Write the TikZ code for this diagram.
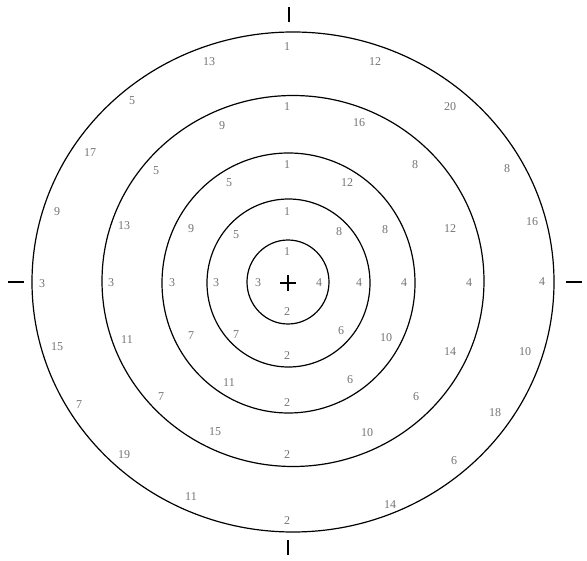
\documentclass[tikz,border=0pt]{standalone}
\usepackage{fontspec}
\setmainfont{Liberation Serif}
\usepackage{tikz}

\begin{document}
\begin{tikzpicture}[x=1pt, y=-1pt]

\tikzstyle{ring} = [line width=1.2pt, draw=black]
\tikzstyle{lbl} = [inner sep=0pt, text=black!55, font=\fontsize{12}{12}\selectfont]
\tikzstyle{tick_mark} = [line width=1.4pt]

\useasboundingbox (0,0) rectangle (587,561);

\coordinate (c) at (288,283);

%------------------------------------------------------------
	\draw[ring] (288,282)   ellipse [x radius=41,    y radius=42];
	\draw[ring] (288.5,283) ellipse [x radius=81.5,  y radius=84];
	\draw[ring] (288.5,283) ellipse [x radius=126.5, y radius=130];
	\draw[ring] (293,281)   ellipse [x radius=191,   y radius=185.5];
	\draw[ring] (293,282)   ellipse [x radius=261,   y radius=250];

%------------------------------------------------------------
	\draw[tick_mark] (289,7) -- (289,22);
	\draw[tick_mark] (288,540) -- (288,555);
	\draw[tick_mark] (8,282) -- (24,282);
	\draw[tick_mark] (566,282) -- (582,282);

	\draw[line width=1.1pt] (c) +(-8,0) -- +(8,0);
	\draw[line width=1.1pt] (c) +(0,-8) -- +(0,8);

%------------------------------------------------------------
	\node[lbl] (r1n) at (287,252) {1};
	\node[lbl] (r1w) at (258,283) {3};
	\node[lbl] (r1e) at (319,283) {4};
	\node[lbl] (r1s) at (287,312) {2};

%------------------------------------------------------------
	\node[lbl] (r2n)  at (287,212) {1};
	\node[lbl] (r2nw) at (236,235) {5};
	\node[lbl] (r2ne) at (339,232) {8};
	\node[lbl] (r2w)  at (216,283) {3};
	\node[lbl] (r2e)  at (359,283) {4};
	\node[lbl] (r2sw) at (236,335) {7};
	\node[lbl] (r2se) at (341,331) {6};
	\node[lbl] (r2s)  at (287,356) {2};

%------------------------------------------------------------
	\node[lbl] (r3n)   at (287,165) {1};
	\node[lbl] (r3nnw) at (229,183) {5};
	\node[lbl] (r3nne) at (347,183) {12};
	\node[lbl] (r3wnw) at (191,229) {9};
	\node[lbl] (r3ene) at (385,230) {8};
	\node[lbl] (r3w)   at (172,283) {3};
	\node[lbl] (r3e)   at (404,283) {4};
	\node[lbl] (r3wsw) at (191,336) {7};
	\node[lbl] (r3ese) at (386,338) {10};
	\node[lbl] (r3ssw) at (229,383) {11};
	\node[lbl] (r3sse) at (350,380) {6};
	\node[lbl] (r3s)   at (287,403) {2};

%------------------------------------------------------------
	\node[lbl] (r4n)   at (287,107) {1};
	\node[lbl] (r4nnw) at (222,126) {9};
	\node[lbl] (r4nne) at (359,123) {16};
	\node[lbl] (r4nw)  at (156,171) {5};
	\node[lbl] (r4ne)  at (415,165) {8};
	\node[lbl] (r4wnw) at (124,226) {13};
	\node[lbl] (r4ene) at (450,229) {12};
	\node[lbl] (r4w)   at (111,283) {3};
	\node[lbl] (r4e)   at (469,283) {4};
	\node[lbl] (r4wsw) at (127,340) {11};
	\node[lbl] (r4ese) at (450,352) {14};
	\node[lbl] (r4sw)  at (161,397) {7};
	\node[lbl] (r4se)  at (416,397) {6};
	\node[lbl] (r4ssw) at (215,432) {15};
	\node[lbl] (r4sse) at (367,433) {10};
	\node[lbl] (r4s)   at (287,455) {2};

%------------------------------------------------------------
	\node[lbl] (r5n)   at (287,47)  {1};
	\node[lbl] (r5nnw) at (209,62)  {13};
	\node[lbl] (r5nne) at (375,62)  {12};
	\node[lbl] (r5nw)  at (132,101) {5};
	\node[lbl] (r5ne)  at (450,107) {20};
	\node[lbl] (r5wnw) at (90,153)  {17};
	\node[lbl] (r5ene) at (507,169) {8};
	\node[lbl] (r5ww)  at (57,212)  {9};
	\node[lbl] (r5ee)  at (532,222) {16};
	\node[lbl] (r5w)   at (42,284)  {3};
	\node[lbl] (r5e)   at (542,282) {4};
	\node[lbl] (r5wsw) at (57,347)  {15};
	\node[lbl] (r5ese) at (525,352) {10};
	\node[lbl] (r5sw)  at (79,405)  {7};
	\node[lbl] (r5se)  at (495,413) {18};
	\node[lbl] (r5ssw) at (124,455) {19};
	\node[lbl] (r5sse) at (454,461) {6};
	\node[lbl] (r5s1)  at (191,497) {11};
	\node[lbl] (r5s2)  at (390,505) {14};
	\node[lbl] (r5s)   at (287,521) {2};

\end{tikzpicture}
\end{document}
